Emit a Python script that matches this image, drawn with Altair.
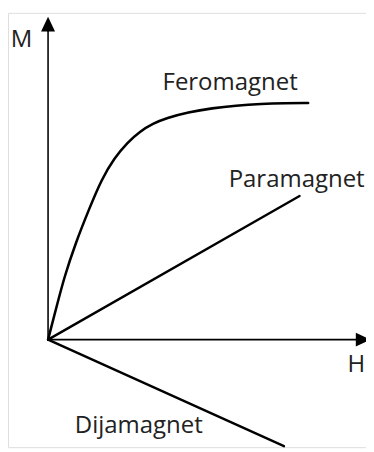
import altair as alt
import pandas as pd

# Feromagnet curve (H, M)
fero_H = [0.0, 0.255, 0.51, 0.87, 1.28, 1.69, 2.09, 2.49, 2.89, 3.30, 3.72, 4.40, 5.17, 5.90, 6.71, 7.45, 8.18]
fero_M = [0.0, 0.97, 1.94, 3.00, 4.02, 4.98, 5.63, 6.10, 6.45, 6.69, 6.86, 7.04, 7.17, 7.25, 7.30, 7.32, 7.33]
# Paramagnet line
para_H = [0.0, 7.91]
para_M = [0.0, 4.45]
# Dijamagnet line
dija_H = [0.0, 7.42]
dija_M = [0.0, -3.30]

# axes
axis_x_H = [0.0, 9.72]
axis_x_M = [0.0, 0.0]
axis_y_H = [0.0, 0.0]
axis_y_M = [0.0, 9.55]

labels = ["M", "H", "Feromagnet", "Paramagnet", "Dijamagnet"]
label_H = [-1.17, 9.42, 3.60, 5.68, 0.84]
label_M = [9.06, -1.0, 7.74, 4.72, -2.88]

xs = alt.Scale(domain=[-1.26, 10.0], nice=False, zero=False)
ys = alt.Scale(domain=[-3.33, 10.12], nice=False, zero=False)

def line_df(H, M):
    return pd.DataFrame({"H": H, "M": M, "o": list(range(len(H)))})

def curve(H, M, width, interp="linear"):
    return alt.Chart(line_df(H, M)).mark_line(
        color="black", strokeWidth=width, interpolate=interp, strokeCap="round"
    ).encode(
        x=alt.X("H:Q", scale=xs, axis=None),
        y=alt.Y("M:Q", scale=ys, axis=None),
        order="o:Q",
    )

ax_x = curve(axis_x_H, axis_x_M, 1.6)
ax_y = curve(axis_y_H, axis_y_M, 1.6)

arrows = alt.Chart(pd.DataFrame({
    "H": [0.0, 9.91],
    "M": [9.77, 0.0],
    "shape": ["M0,-1L0.95,1L-0.95,1Z", "M1,0L-1,0.95L-1,-0.95Z"],
})).mark_point(filled=True, color="black", opacity=1, size=225).encode(
    x=alt.X("H:Q", scale=xs, axis=None),
    y=alt.Y("M:Q", scale=ys, axis=None),
    shape=alt.Shape("shape:N", scale=None),
)

fero = curve(fero_H, fero_M, 2.6, "basis")
para = curve(para_H, para_M, 2.4)
dija = curve(dija_H, dija_M, 2.4)

text = alt.Chart(pd.DataFrame({"t": labels, "H": label_H, "M": label_M})).mark_text(
    align="left", baseline="alphabetic", font="Open Sans", fontSize=24.5, color="#222222"
).encode(
    x=alt.X("H:Q", scale=xs, axis=None),
    y=alt.Y("M:Q", scale=ys, axis=None),
    text="t:N",
)

chart = alt.layer(ax_x, ax_y, arrows, fero, para, dija, text).properties(
    width=366, height=444, padding=0,
    autosize=alt.AutoSizeParams(type="none"),
).configure_view(stroke=None).configure(background="white")

chart.save("out.html", embed_options={"renderer": "svg", "actions": False})
